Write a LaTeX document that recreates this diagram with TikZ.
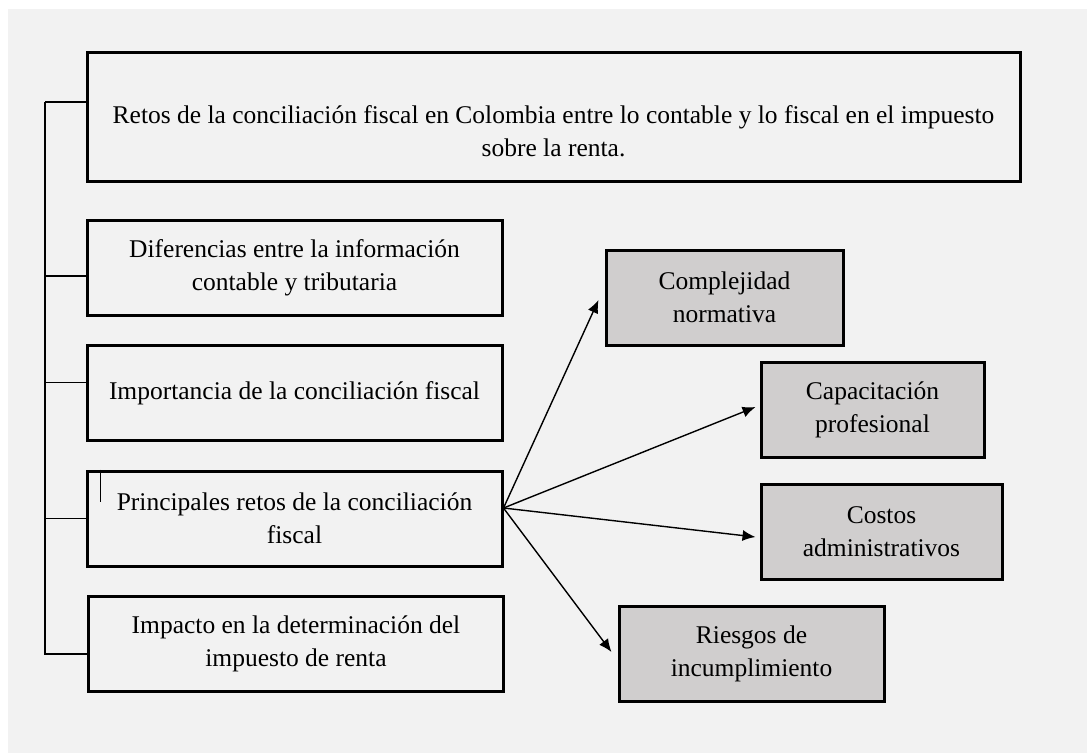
\documentclass[tikz,border=0pt]{standalone}
\usepackage{fontspec}
\setmainfont{Liberation Serif}
\usepackage{xcolor}
\usepackage{tikz}
\usetikzlibrary{positioning, arrows.meta}
\definecolor{fondo}{HTML}{F2F2F2}
\definecolor{gris}{HTML}{D0CECE}

\begin{document}
\begin{tikzpicture}[x=1pt, y=-1pt, node distance=27.5pt, auto,
	caja/.style={rectangle, draw, line width=3pt, fill=fondo, align=center, font=\fontsize{25.5}{33}\selectfont, minimum height=95pt, minimum width=415pt},
	cajagris/.style={caja, fill=gris, minimum width=0pt},
	rama/.style={line width=1.3pt},
	flecha/.style={-{Latex[length=13pt, width=11pt]}, line width=1.4pt}]
	\fill[white] (0,0) rectangle (1087,753);
	\fill[fondo] (8,9) rectangle (1087,753);

	\node[caja, minimum width=933pt, minimum height=129pt] (re0) at (553.5,116.5) {};
	\node[align=center, font=\fontsize{25.5}{33}\selectfont] (t0) at ([yshift=-14.5pt]re0.center) {Retos de la conciliación fiscal en Colombia entre lo contable y lo fiscal en el impuesto\\sobre la renta.};
	\node[caja] (re1) at (294.5,267.5) {Diferencias entre la información\\contable y tributaria};
	\node[caja, below=of re1] (re2) {Importancia de la conciliación fiscal};
	\node[caja, below=of re2] (re3) {Principales retos de la conciliación\\fiscal};
	\node[caja, below=of re3, xshift=1.5pt] (re4) {Impacto en la determinación del\\impuesto de renta};

	\node[cajagris, minimum width=237pt] (gr1) at (724.5,297.5) {Complejidad\\normativa};
	\node[cajagris, minimum width=223pt] (gr2) at (872.5,410) {Capacitación\\profesional};
	\node[cajagris, minimum width=241pt] (gr3) at (881.5,532) {Costos\\administrativos};
	\node[cajagris, minimum width=265pt] (gr4) at (751.5,654) {Riesgos de\\incumplimiento};

	% corchete de la izquierda
	\coordinate (barra) at (45,102);
	\draw[rama] (barra) -- ([yshift=14.5pt]re0.west);
	\draw[rama] (barra) |- ([yshift=-10pt]re4.west);
	\draw[rama] ([yshift=-8.5pt]re1.west) -- ++(-41pt,0pt);
	\draw[rama] ([yshift=10.5pt]re2.west) -- ++(-41pt,0pt);
	\draw[rama] (re3.west) -- ++(-41pt,0pt);
	\draw[rama] ([xshift=15pt]re3.north west) -- ++(0pt,-32pt);

	\draw[flecha] ([yshift=10.5pt]re3.east) -- ([xshift=-6pt,yshift=-2.5pt]gr1.west);
	\draw[flecha] ([yshift=10.5pt]re3.east) -- ([xshift=-4pt,yshift=3pt]gr2.west);
	\draw[flecha] ([yshift=10.5pt]re3.east) -- ([xshift=-4pt,yshift=-5pt]gr3.west);
	\draw[flecha] ([yshift=10.5pt]re3.east) -- ([xshift=-6pt,yshift=2pt]gr4.west);
\end{tikzpicture}
\end{document}
